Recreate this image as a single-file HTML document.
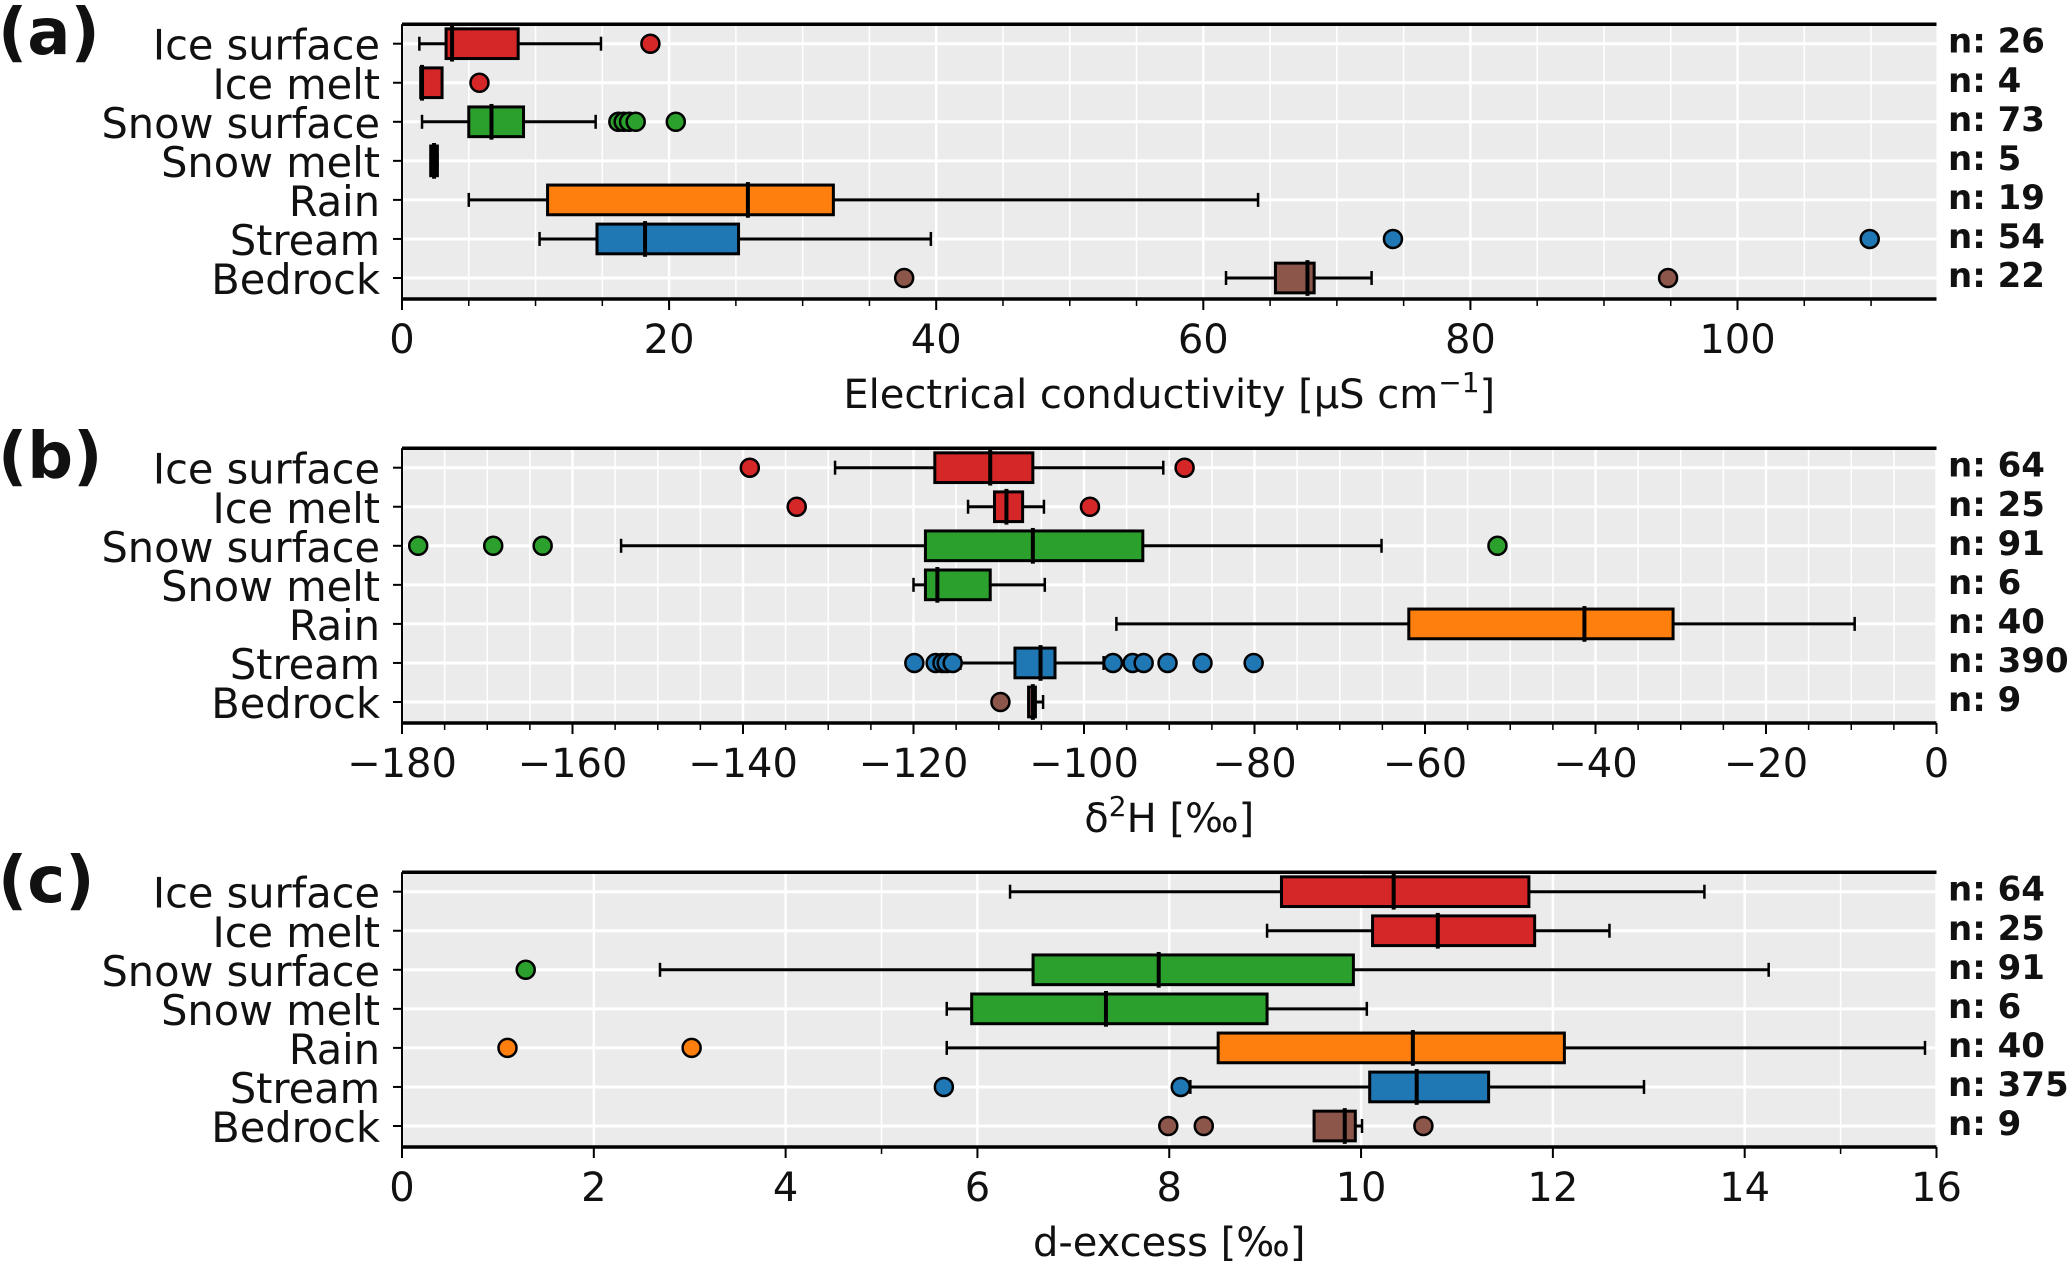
<!DOCTYPE html>
<html><head><meta charset="utf-8"><style>
html,body{margin:0;padding:0;background:#fff;}
svg{display:block;font-family:"DejaVu Sans","Liberation Sans",sans-serif;}
</style></head><body>
<svg id="fig" width="2067" height="1261" viewBox="0 0 2067 1261" xmlns="http://www.w3.org/2000/svg"></svg>
<script>
const categories = ["Ice surface","Ice melt","Snow surface","Snow melt","Rain","Stream","Bedrock"];
const colors = ["#d62728","#d62728","#2ca02c","#2ca02c","#ff7f0e","#1f77b4","#8c564b"];
// [whisker low, Q1, median, Q3, whisker high]
const ecStats = [[1.3,3.3,3.75,8.7,14.9],[1.4,1.4,1.5,3.0,3.0],[1.5,5.0,6.7,9.1,14.5],[2.15,2.15,2.4,2.65,2.65],[5.0,10.9,25.9,32.3,64.1],[10.3,14.6,18.2,25.2,39.6],[61.7,65.4,67.8,68.3,72.6]];
const ecOutliers = [[18.6],[5.8],[16.2,16.6,17.0,17.5,20.5],[],[],[74.2,109.9],[37.6,94.8]];
const ecN = [26,4,73,5,19,54,22];
const h2Stats = [[-129.2,-117.5,-111.0,-106.0,-90.7],[-113.6,-110.5,-109.1,-107.2,-104.7],[-154.3,-118.6,-106.0,-93.1,-65.1],[-120.0,-118.6,-117.2,-111.0,-104.6],[-96.2,-61.9,-41.3,-30.9,-9.6],[-114.5,-108.1,-105.1,-103.4,-97.7],[-106.5,-106.5,-106.0,-105.7,-104.8]];
const h2Outliers = [[-139.2,-88.2],[-133.7,-99.3],[-178.1,-169.3,-163.5,-51.5],[],[],[-119.9,-117.4,-116.6,-116.1,-115.4,-96.6,-94.3,-93.0,-90.2,-86.1,-80.1],[-109.8]];
const h2N = [64,25,91,6,40,390,9];
const dxStats = [[6.34,9.17,10.34,11.75,13.58],[9.02,10.12,10.80,11.81,12.59],[2.69,6.58,7.89,9.92,14.25],[5.68,5.94,7.34,9.02,10.06],[5.68,8.51,10.54,12.12,15.88],[8.22,10.09,10.58,11.33,12.95],[9.51,9.51,9.83,9.94,10.01]];
const dxOutliers = [[],[],[1.29],[],[1.10,3.02],[5.65,8.12],[7.99,8.36,10.65]];
const dxN = [64,25,91,6,40,375,9];
const ecTicks = [0,20,40,60,80,100];
const h2Ticks = [-180,-160,-140,-120,-100,-80,-60,-40,-20,0];
const dxTicks = [0,2,4,6,8,10,12,14,16];

const NS="http://www.w3.org/2000/svg";
const svg=document.getElementById('fig');
function mk(tag,attrs,parent){const e=document.createElementNS(NS,tag);for(const k in attrs)e.setAttribute(k,attrs[k]);(parent||svg).appendChild(e);return e;}
const L=402,R=1936.5;

function panel(letter,dy,xmin,xmax,ticks,minorStep,stats,outl,ns,xlabelHTML,name){
  const g=mk('g',{});
  
  
  const top=dy+24.3,bot=dy+299,r0=dy+43.7,step=39.05;
  const sx=v=>L+(v-xmin)/(xmax-xmin)*(R-L);
  const sy=i=>r0+i*step;
  const bg=mk('rect',{x:L,y:top,width:R-L,height:bot-top,fill:'#ebebeb'},g);
  
  
  for(let v=Math.ceil(xmin/minorStep)*minorStep;v<=xmax+1e-9;v+=minorStep){
    mk('line',{x1:sx(v),x2:sx(v),y1:top,y2:bot,stroke:'#fff','stroke-width':1.5},g);
    mk('line',{x1:sx(v),x2:sx(v),y1:bot,y2:bot+7,stroke:'#000','stroke-width':1.5},g);
  }
  ticks.forEach(t=>{
    mk('line',{x1:sx(t),x2:sx(t),y1:top,y2:bot,stroke:'#fff','stroke-width':2.5},g);
    mk('line',{x1:sx(t),x2:sx(t),y1:bot,y2:bot+11,stroke:'#000','stroke-width':2},g);
    const tl=mk('text',{x:sx(t),y:dy+353,'text-anchor':'middle','font-size':40,fill:'#111'},g);
    tl.textContent=(t<0?'\u2212'+(-t):String(t));
    
    
  });
  categories.forEach((c,i)=>{
    const y=sy(i);
    mk('line',{x1:L,x2:R,y1:y,y2:y,stroke:'#fff','stroke-width':3},g);
    mk('line',{x1:L-9,x2:L,y1:y,y2:y,stroke:'#000','stroke-width':2},g);
    const t=mk('text',{x:380,y:y+16,'text-anchor':'end','font-size':41.5,fill:'#111'},g);
    t.textContent=c;
    
    
    const n=mk('text',{x:1948,y:y+9,'font-size':34,'font-weight':'bold',fill:'#111'},g);
    n.textContent='n: '+ns[i];
    
    
  });
  stats.forEach((s,i)=>{
    const y=sy(i),bh=29.7,ch=14;
    const bx=mk('g',{},g);
    
    
    mk('line',{x1:sx(s[0]),x2:sx(s[1]),y1:y,y2:y,stroke:'#000','stroke-width':3},bx);
    mk('line',{x1:sx(s[3]),x2:sx(s[4]),y1:y,y2:y,stroke:'#000','stroke-width':3},bx);
    mk('line',{x1:sx(s[0]),x2:sx(s[0]),y1:y-ch/2,y2:y+ch/2,stroke:'#000','stroke-width':2.5},bx);
    mk('line',{x1:sx(s[4]),x2:sx(s[4]),y1:y-ch/2,y2:y+ch/2,stroke:'#000','stroke-width':2.5},bx);
    mk('rect',{x:sx(s[1]),y:y-bh/2,width:Math.max(sx(s[3])-sx(s[1]),1),height:bh,fill:colors[i],stroke:'#000','stroke-width':3},bx);
    mk('line',{x1:sx(s[2]),x2:sx(s[2]),y1:y-bh/2-3,y2:y+bh/2+3,stroke:'#000','stroke-width':4},bx);
    outl[i].forEach(v=>{
      const c=mk('circle',{cx:sx(v),cy:y,r:9,fill:colors[i],stroke:'#000','stroke-width':2.5},bx);
      
      
    });
  });
  mk('line',{x1:L,x2:R,y1:top,y2:top,stroke:'#000','stroke-width':3.5},g);
  mk('line',{x1:L,x2:R,y1:bot,y2:bot,stroke:'#000','stroke-width':3.5},g);
  mk('line',{x1:L,x2:L,y1:top,y2:bot,stroke:'#000','stroke-width':2},g);
  const xl=mk('text',{x:(L+R)/2,y:dy+408,'text-anchor':'middle','font-size':40,fill:'#111'},g);
  xl.innerHTML=xlabelHTML;
  
  
  const pl=mk('text',{x:-2,y:dy+54,'font-size':64,'font-weight':'bold',fill:'#111'},g);
  pl.textContent=letter;
  
  
}
panel('(a)',0,0,114.9,ecTicks,5,ecStats,ecOutliers,ecN,'Electrical conductivity [µS cm<tspan dy="-16" font-size="28">\u22121</tspan><tspan dy="16">]</tspan>','panel-a-conductivity');
panel('(b)',424,-180,0,h2Ticks,5,h2Stats,h2Outliers,h2N,'δ<tspan dy="-16" font-size="28">2</tspan><tspan dy="16">H [‰]</tspan>','panel-b-deuterium');
panel('(c)',848,0,16,dxTicks,5,dxStats,dxOutliers,dxN,'d-excess [‰]','panel-c-dexcess');
</script>
</body></html>
